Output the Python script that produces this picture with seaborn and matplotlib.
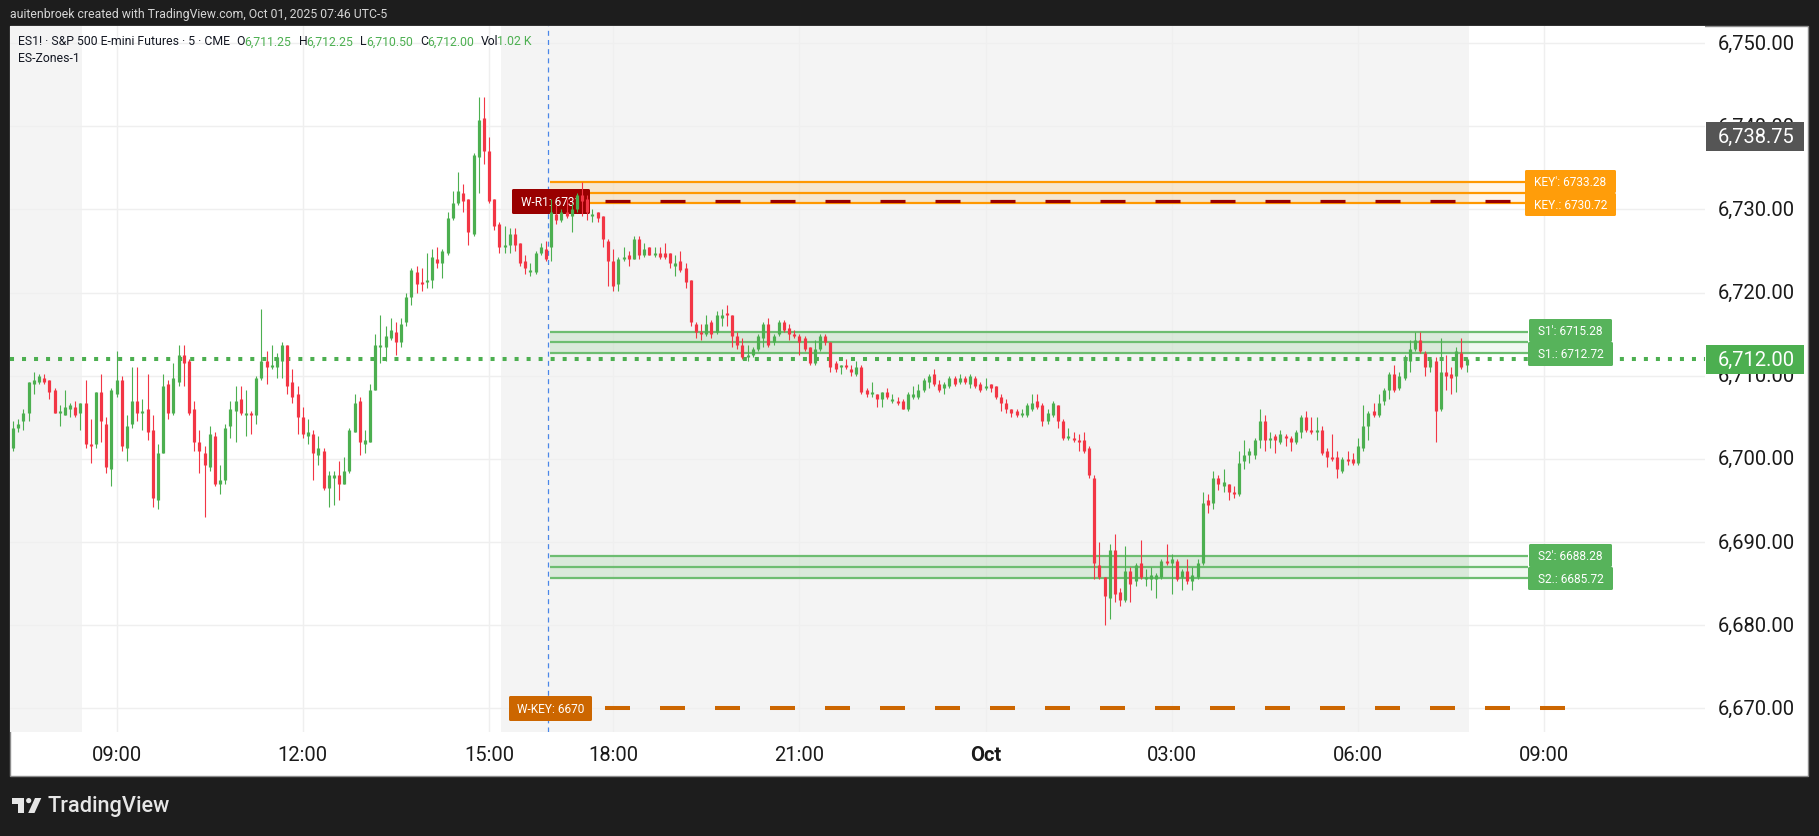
#!/usr/bin/env python3
"""ES1! 5 minute candles with the ES-Zones-1 levels, TradingView style."""

import numpy as np
import pandas as pd
import matplotlib
matplotlib.use("Agg")
import matplotlib.pyplot as plt
from matplotlib.patches import FancyBboxPatch, Polygon, Rectangle, Circle
from matplotlib.transforms import Affine2D
import seaborn as sns

# bar number 0 is the 09:00 candle of Sep 30, session break 16:00-17:00 is skipped
first_bar = -20

opens = [
    6701.25, 6703.75, 6704.5, 6705.5, 6709, 6709.25, 6709.75, 6709.5, 6708.25, 6705.5,
    6705.25, 6706, 6706.25, 6705.5, 6706.75, 6701.75, 6701.75, 6708, 6704.25, 6698.75,
    6707.75, 6709.5, 6701.25, 6704.25, 6707, 6705.5, 6706, 6703.5, 6695, 6700.75,
    6709, 6705.5, 6709.25, 6712.5, 6711.75, 6706, 6702, 6700.75, 6699, 6702.75,
    6697, 6697.5, 6704, 6705.75, 6707.25, 6705.25, 6705.5, 6705.25, 6709.75, 6711.75,
    6711, 6711, 6711.75, 6713.75, 6709.25, 6707.75, 6705, 6702.75, 6703, 6700.5,
    6701, 6696.5, 6697.75, 6698, 6697, 6698.5, 6703.25, 6707, 6701.75, 6702,
    6708.25, 6713.5, 6713.5, 6714.5, 6715.25, 6714, 6716.5, 6719.5, 6722.5, 6721.25,
    6721.25, 6721.5, 6724, 6723.5, 6724.75, 6729, 6730.75, 6732, 6731.25, 6727,
    6736.25, 6741, 6737, 6731.25, 6728.25, 6725.5, 6725.75, 6727, 6726, 6723.75,
    6722.5, 6722.5, 6724.75, 6725.25, 6725.5, 6729.5, 6728.75, 6729.75, 6729.25, 6730,
    6731.75, 6731.25, 6729.25, 6729.75, 6729.25, 6726.25, 6723.75, 6721, 6724, 6724.5,
    6724, 6726.5, 6724.5, 6725.5, 6724.5, 6724.75, 6724.75, 6724.75, 6723.25, 6723.75,
    6723, 6721.5, 6716.25, 6715.25, 6715, 6716.5, 6715.25, 6717, 6717.5, 6717.25,
    6714.75, 6713.75, 6712.25, 6712.5, 6713.25, 6714.5, 6716.25, 6714, 6715, 6716.5,
    6715.75, 6715, 6714.75, 6714.5, 6713.5, 6711.5, 6713.25, 6714.75, 6714, 6711.5,
    6711, 6711.25, 6710.75, 6710.25, 6711, 6708.25, 6707.75, 6707.75, 6707.25, 6708,
    6707, 6707, 6707, 6706, 6707.5, 6707.5, 6708.25, 6709.25, 6710.25, 6709,
    6708.5, 6708.75, 6709.75, 6709.25, 6709.75, 6709, 6709.75, 6709, 6708.5, 6709,
    6708.75, 6707.5, 6706.75, 6706, 6705.75, 6705.25, 6705.25, 6706, 6707, 6706.5,
    6704.5, 6705.25, 6706.5, 6704.5, 6702.5, 6702.5, 6702.25, 6702.25, 6701.25, 6697.75,
    6687.25, 6685.75, 6683.25, 6689, 6684, 6683, 6686.5, 6685.25, 6687.5, 6685.5,
    6685.5, 6685.5, 6685.75, 6687.75, 6687.5, 6687.75, 6685.75, 6686.5, 6685.25, 6685.75,
    6687.5, 6695, 6694.75, 6697.75, 6696.75, 6697, 6696, 6695.75, 6699.75, 6700.5,
    6700.5, 6702.25, 6704.5, 6702.25, 6702.75, 6702, 6702.75, 6702.5, 6702, 6703.25,
    6705, 6703.5, 6703.25, 6703.5, 6701, 6700.25, 6700.25, 6698.5, 6700, 6700,
    6699.5, 6701.25, 6704, 6705.75, 6705.25, 6707, 6708.25, 6710.25, 6708.5, 6709.75,
    6711.75, 6713.25, 6714.25, 6712.75, 6711, 6711.75, 6706, 6710.5, 6710.25, 6710,
    6712.75, 6711.25,
]
highs = [
    6704.5, 6704.75, 6706, 6709.25, 6710.5, 6710.25, 6710.25, 6709.5, 6708.5, 6706.5,
    6708.25, 6706.75, 6707, 6706.75, 6709.5, 6704.75, 6708, 6710.25, 6705, 6708.5,
    6713, 6710, 6705.25, 6711, 6711, 6707.25, 6710.25, 6705.25, 6701.75, 6710.25,
    6709.5, 6711.5, 6713.75, 6713.75, 6712, 6707, 6703.5, 6701.5, 6704, 6703.25,
    6699.25, 6704.25, 6707, 6708.75, 6708.75, 6708.25, 6705.75, 6710, 6718, 6713,
    6713.75, 6712.75, 6714, 6713.75, 6710.75, 6708.75, 6706.25, 6704.75, 6703.5, 6702.75,
    6701.25, 6698.5, 6698.5, 6699.75, 6700.25, 6703.75, 6707.75, 6707.5, 6703.5, 6709,
    6715, 6717.25, 6716, 6717, 6716.5, 6717, 6720, 6723, 6723.25, 6723,
    6724.75, 6725.25, 6725.5, 6725.25, 6729.75, 6732.25, 6734.5, 6733, 6731.25, 6736.75,
    6743.5, 6743.5, 6738.75, 6731.25, 6728.5, 6728, 6727.75, 6727.75, 6726, 6724.5,
    6723.5, 6725, 6726, 6726.25, 6731.25, 6730.5, 6730, 6731.25, 6730.75, 6732,
    6733.25, 6731.75, 6730, 6729.75, 6729.25, 6726.5, 6725.25, 6724.25, 6725.5, 6725,
    6726.75, 6726.75, 6726, 6725.5, 6725.5, 6725.5, 6726, 6724.75, 6724.5, 6725,
    6723.5, 6721.5, 6716.5, 6716.25, 6717.25, 6716.75, 6717.75, 6718, 6718.5, 6717.25,
    6715.25, 6714.5, 6713.75, 6713.5, 6715, 6716.5, 6717, 6715, 6716.75, 6716.75,
    6716.25, 6715.5, 6715, 6714.75, 6713.5, 6714.25, 6715, 6715, 6714, 6711.75,
    6711.25, 6712, 6711.25, 6711.75, 6711.25, 6708.5, 6709.25, 6707.75, 6708, 6708.5,
    6707.75, 6707.5, 6707.25, 6708, 6708.75, 6709, 6709.75, 6710.25, 6710.75, 6709.5,
    6709.25, 6710, 6710, 6710.25, 6710, 6710.25, 6710, 6709.25, 6709.75, 6709,
    6708.75, 6707.75, 6707.25, 6706, 6706, 6706, 6706.75, 6707.75, 6707.75, 6706.75,
    6706, 6707, 6706.5, 6704.75, 6703.75, 6703.25, 6703, 6703.25, 6701.5, 6698,
    6690, 6685.75, 6689.75, 6691, 6684.5, 6689.5, 6687, 6687.5, 6690.25, 6686.75,
    6687, 6686.25, 6688, 6689.75, 6688.5, 6688, 6686.75, 6688, 6687, 6688,
    6696, 6695.75, 6698.5, 6698, 6698.75, 6697, 6696.75, 6701, 6702.25, 6701.25,
    6702.5, 6706, 6705.25, 6703.25, 6703, 6703.5, 6703, 6702.75, 6703.5, 6705.25,
    6705.75, 6705, 6705, 6704, 6701.25, 6703, 6701, 6700.25, 6701, 6700.75,
    6702.5, 6706.5, 6705.75, 6706.75, 6707.75, 6708.5, 6710.5, 6711.25, 6710.5, 6712.5,
    6714.25, 6715.25, 6715.25, 6713, 6712.25, 6712.25, 6714.5, 6712.5, 6711, 6713.5,
    6714.5, 6712.25,
]
lows = [
    6701, 6703.25, 6703.5, 6704.5, 6707.75, 6709, 6709, 6707.25, 6705.5, 6704,
    6705.25, 6705, 6705, 6703.5, 6701.25, 6699.5, 6701.25, 6702, 6698.25, 6696.75,
    6707.5, 6701, 6699.75, 6703.75, 6704.5, 6703.5, 6702.25, 6694.25, 6694, 6700.75,
    6704.75, 6705.25, 6708.75, 6708.75, 6705.25, 6701, 6698.25, 6693, 6698.5, 6696.75,
    6695.75, 6697, 6702.5, 6702, 6705.25, 6702.75, 6703, 6704.25, 6709.5, 6709,
    6710.75, 6709.75, 6709.75, 6707.75, 6706.75, 6703, 6702.5, 6701.75, 6697.5, 6699.25,
    6696.25, 6694.25, 6694.5, 6695, 6697, 6698.25, 6703.25, 6700.5, 6700.75, 6702,
    6708.25, 6711.5, 6711.75, 6714.25, 6712.5, 6713.5, 6716, 6718.5, 6720, 6720.25,
    6720.5, 6720.5, 6723, 6721.75, 6724.5, 6728.75, 6730.5, 6729.75, 6725.75, 6726.75,
    6732, 6735.5, 6730.75, 6727.5, 6724.75, 6724.75, 6724.75, 6725, 6723.25, 6722.25,
    6722, 6722.25, 6724.5, 6723.75, 6723.75, 6728.25, 6728.5, 6729, 6727.25, 6729.75,
    6729.25, 6728.75, 6728.5, 6728.5, 6725.5, 6720.75, 6720.25, 6720.25, 6723.75, 6723.25,
    6724, 6724, 6724.25, 6724.5, 6724.25, 6724, 6724, 6723, 6722, 6722.5,
    6720.5, 6716, 6714.5, 6714.25, 6714.75, 6714.5, 6715, 6716, 6716, 6713.5,
    6713.25, 6712, 6711.75, 6712.25, 6713, 6713.5, 6713.5, 6713.75, 6714.75, 6715.25,
    6714.25, 6714.5, 6712.5, 6713, 6711.25, 6711.25, 6713, 6713.75, 6710.5, 6710.5,
    6710.25, 6710.75, 6710, 6710, 6707.75, 6707.5, 6707.5, 6706.25, 6706.25, 6707.25,
    6706.75, 6706.5, 6706, 6705.75, 6707.25, 6707.25, 6708, 6708.5, 6708.75, 6708,
    6707.75, 6708.5, 6708.75, 6709, 6709, 6708.5, 6708.5, 6708, 6708.25, 6708,
    6707.25, 6705.75, 6705.5, 6705, 6705, 6705, 6705, 6705.75, 6706, 6704,
    6704.25, 6705, 6703.75, 6702.25, 6702.25, 6702, 6701, 6700.75, 6697.75, 6685.5,
    6685.5, 6680, 6680.75, 6682.75, 6682.25, 6682.75, 6682.75, 6684.75, 6685.5, 6684.75,
    6684.25, 6683.25, 6685.5, 6687.25, 6683.75, 6685.25, 6684.25, 6685, 6684.25, 6685.5,
    6687.25, 6693.5, 6694, 6696.25, 6696, 6695, 6695.25, 6695.5, 6698.75, 6699.5,
    6700, 6701.25, 6701, 6701.25, 6700.75, 6701.75, 6701.5, 6701, 6701.75, 6702.5,
    6703.25, 6703, 6702.25, 6700.5, 6699, 6699.75, 6697.75, 6698.25, 6699.25, 6699.25,
    6699.25, 6701, 6702.25, 6705, 6705, 6706.5, 6707.25, 6708, 6708.25, 6709.5,
    6710.5, 6713, 6712.75, 6710, 6710.5, 6702, 6705.75, 6708.25, 6707.75, 6708,
    6710.75, 6710.5,
]
closes = [
    6703.75, 6704.25, 6705.5, 6709.25, 6709.5, 6710, 6709.25, 6708, 6705.5, 6705.75,
    6706.25, 6706.5, 6705.25, 6706.75, 6701.75, 6701.5, 6708, 6704.5, 6699, 6708.25,
    6709.5, 6701.5, 6704, 6707, 6705.5, 6705.75, 6703.25, 6695.25, 6700.75, 6708.75,
    6705.5, 6709.75, 6712.5, 6711.5, 6705.5, 6702, 6701, 6699.25, 6703, 6697,
    6697.5, 6703.75, 6706, 6707, 6705.5, 6705.5, 6705.25, 6709.75, 6711.75, 6711,
    6711.25, 6712.25, 6713.75, 6708.75, 6707.5, 6705, 6703, 6703.25, 6700.75, 6701.25,
    6696.5, 6698, 6698, 6697, 6698.5, 6703.5, 6706.75, 6702, 6702.25, 6708.25,
    6713.75, 6713.75, 6714.75, 6715.5, 6714, 6716.25, 6719.5, 6722.75, 6721, 6721,
    6721.5, 6724.25, 6723.5, 6725, 6729, 6730.75, 6732.25, 6731, 6727.25, 6736.5,
    6740.75, 6737, 6731, 6728, 6725.5, 6725.75, 6727, 6725.75, 6723.5, 6723,
    6722.75, 6724.75, 6725.5, 6724, 6729.75, 6728.75, 6729.75, 6729.25, 6730, 6731.75,
    6731, 6729.75, 6729.5, 6729, 6726.5, 6723.75, 6720.75, 6724, 6724.25, 6724,
    6726.5, 6724.5, 6725.25, 6724.5, 6724.75, 6724.25, 6724.25, 6723.5, 6723.5, 6722.75,
    6721.25, 6716.5, 6715.25, 6715, 6716.25, 6715, 6717.25, 6717.25, 6717.25, 6714.75,
    6713.75, 6712.25, 6712.5, 6713.25, 6714.75, 6716.25, 6713.75, 6714.75, 6716.5, 6715.5,
    6715, 6714.75, 6714, 6713.25, 6711.5, 6713.25, 6714.75, 6714, 6711, 6710.75,
    6711.25, 6711, 6710.5, 6711, 6708, 6707.75, 6708, 6707.25, 6708, 6707.5,
    6707.25, 6706.75, 6706, 6707.75, 6707.75, 6708.25, 6709.5, 6710, 6709, 6708.25,
    6709, 6709.75, 6709, 6709.75, 6709.25, 6710, 6708.75, 6708.25, 6708.75, 6708.5,
    6707.5, 6706.75, 6706, 6705.5, 6705.25, 6705.5, 6706.5, 6706.75, 6706.25, 6704.5,
    6705.5, 6706.75, 6704.5, 6702.5, 6702.75, 6702.25, 6702, 6701, 6698, 6687.5,
    6685.75, 6683.5, 6689, 6683.75, 6683, 6686.5, 6685, 6687.25, 6685.75, 6685.75,
    6686, 6686, 6687.75, 6687.5, 6688, 6685.5, 6686.5, 6685.25, 6686, 6687.5,
    6694.75, 6694.5, 6697.75, 6697, 6697.25, 6696, 6695.75, 6699.5, 6700.5, 6701,
    6702.25, 6704.5, 6702.25, 6702.5, 6702.25, 6703, 6702.5, 6702, 6703.25, 6705,
    6703.5, 6703.25, 6703.5, 6700.75, 6700.25, 6700, 6698.75, 6700, 6699.75, 6699.5,
    6701.5, 6704, 6705.5, 6705.25, 6706.75, 6708.25, 6710.25, 6708.25, 6710, 6712.25,
    6713.25, 6714.25, 6713, 6711, 6712, 6705.75, 6710.5, 6710, 6709.75, 6713,
    6711, 6712,
]

# time axis and price axis
time_ticks = [0, 36, 72, 96, 132, 168, 204, 240, 276]
time_labels = ["09:00", "12:00", "15:00", "18:00", "21:00", "Oct", "03:00", "06:00", "09:00"]
price_ticks = [6670, 6680, 6690, 6700, 6710, 6720, 6730, 6740, 6750]

# ES-Zones-1 levels
zone_tops = [6733.28, 6715.28, 6688.28]
zone_bottoms = [6730.72, 6712.72, 6685.72]
zone_colors = ["#ff9800", "#4caf50", "#4caf50"]
weekly_levels = [6731, 6670]
weekly_colors = ["#990000", "#cc6600"]
last_price = 6712.0
high_price = 6738.75

GREEN = "#4caf50"
RED = "#f23645"
W, H = 1819, 837
PLOT_L, PLOT_R, PLOT_T, PLOT_B = 10, 1705, 27, 733
BAR_PX = 5.1725
BAR0_PX = 116.6


def bar_at(px):
    return (px - BAR0_PX) / BAR_PX


def long_table(top, bottom):
    bars = np.arange(first_bar, first_bar + len(opens))
    up = np.array(closes) >= np.array(opens)
    side = np.where(up, "up", "down")
    return pd.concat([
        pd.DataFrame({"bar": bars, "price": top, "side": side}),
        pd.DataFrame({"bar": bars, "price": bottom, "side": side}),
    ])


sns.set_theme(style="white", rc={"lines.scale_dashes": False, "axes.linewidth": 0})
plt.rcParams["font.family"] = ["Roboto", "DejaVu Sans"]

fig = plt.figure(figsize=(W / 100, H / 100), dpi=100, facecolor="#1d1d1d")
ax = fig.add_axes([PLOT_L / W, (H - PLOT_B) / H, (PLOT_R - PLOT_L) / W, (PLOT_B - PLOT_T) / H],
                  facecolor="white", zorder=2)

# pixel coordinates with the origin on top, for the labels and the frame
px = Affine2D().scale(1, -1).translate(0, H)

# white chart frame behind the axes
fig.add_artist(Rectangle((9.5, 27), 1798.5, 749.5, transform=px, facecolor="white",
                         edgecolor="#8c8c8c", linewidth=1, zorder=0))

# session shading
ax.axvspan(bar_at(PLOT_L), bar_at(82), color="#f4f4f4", lw=0, zorder=0)
ax.axvspan(bar_at(501), bar_at(1469), color="#f4f4f4", lw=0, zorder=0)

# zones
zone_start = bar_at(550)
zone_mid = bar_at(1469)
zone_end = bar_at(1528)
for top, bottom, col in zip(zone_tops, zone_bottoms, zone_colors):
    line_col = col if col != GREEN else "#6dbd71"
    ax.fill_between([zone_start, zone_mid], bottom, top, color=col, alpha=0.15, lw=0, zorder=2)
    ax.fill_between([zone_mid, zone_end], bottom, top, color=col, alpha=0.08, lw=0, zorder=2)
    for level in (top, (top + bottom) / 2, bottom):
        ax.hlines(level, zone_start, zone_end, color=line_col, lw=1.6, zorder=2.2)

# session start marker, weekly levels and last price line
ax.axvline(bar_at(548.4), color="#4a86e8", lw=0.9, ls=(0, (3.6, 3)), zorder=2.5)
for level, col, width in zip(weekly_levels, weekly_colors, (2.3, 2.9)):
    ax.hlines(level, zone_start, bar_at(1565), color=col, lw=width,
              linestyles=[(0, (18, 21.6))], zorder=3)
ax.axhline(last_price, color=GREEN, lw=2.9, ls=(0, (2.9, 5.75)), zorder=3)


def label_box(x0, x1, y0, y1, col, text, size=8.6, zorder=4):
    ax.add_patch(FancyBboxPatch((x0 + 1, y0 + 1), x1 - x0 - 2, y1 - y0 - 2, transform=px,
                                boxstyle="round,pad=1,rounding_size=1.5", facecolor=col,
                                edgecolor="none", clip_on=False, zorder=zorder))
    ax.text((x0 + x1) / 2, (y0 + y1) / 2, text, transform=px, color="white", fontsize=size,
            ha="center", va="center", zorder=zorder + 0.1, clip_on=False)


label_box(512, 590, 190, 215, "#990000", "W-R1: 6731")
label_box(509, 592, 697, 722, "#cc6600", "W-KEY: 6670")
label_box(1525, 1616, 171, 194, "#ff9d0a", "KEY': 6733.28")
label_box(1525, 1616, 194, 217, "#ff9d0a", "KEY.: 6730.72")
label_box(1529, 1612, 320, 343, "#57b35b", "S1': 6715.28")
label_box(1528, 1613, 343, 367, "#57b35b", "S1.: 6712.72")
label_box(1529, 1612, 545, 568, "#57b35b", "S2': 6688.28")
label_box(1528, 1613, 568, 591, "#57b35b", "S2.: 6685.72")

# candles, one line per bar for the wick and one for the body
palette = {"up": GREEN, "down": RED}
sns.lineplot(data=long_table(highs, lows), x="bar", y="price", hue="side", units="bar",
             estimator=None, palette=palette, legend=False, linewidth=0.8, ax=ax,
             solid_capstyle="butt", zorder=6)
sns.lineplot(data=long_table(opens, closes), x="bar", y="price", hue="side", units="bar",
             estimator=None, palette=palette, legend=False, linewidth=2.3, ax=ax,
             solid_capstyle="butt", zorder=6)

ax.set_xlim(bar_at(PLOT_L), bar_at(PLOT_R))
ax.set_ylim(6740 - (PLOT_B - 127.3) / 8.314, 6740 + (127.3 - PLOT_T) / 8.314)
ax.set_xlabel("")
ax.set_ylabel("")

ax.set_xticks(time_ticks)
ax.set_xticklabels(time_labels)
ax.set_yticks(price_ticks)
ax.set_yticklabels([f"{p:,.2f}" for p in price_ticks], va="center")
ax.yaxis.tick_right()
ax.tick_params(axis="both", length=0, labelsize=14.5, labelcolor="#1a1a1a")
ax.tick_params(axis="y", pad=9.4)
ax.tick_params(axis="x", pad=9.5)
ax.get_xticklabels()[5].set_fontweight("bold")
ax.set_axisbelow(True)
ax.grid(True, color="#efefef", lw=1)

# price boxes on the axis
for y0, y1, col, value in [(123, 152, "#555555", high_price), (346, 375, GREEN, last_price)]:
    ax.add_patch(Rectangle((1706, y0), 98, y1 - y0, transform=px, facecolor=col, edgecolor="none",
                           clip_on=False, zorder=7))
    ax.text(1718, (y0 + y1) / 2, f"{value:,.2f}", transform=px, color="white", fontsize=14.5,
            ha="left", va="center", zorder=8, clip_on=False)

# header and legend
fig.text(10, 15, "auitenbroek created with TradingView.com, Oct 01, 2025 07:46 UTC-5",
         transform=px, color="#d6d6d6", fontsize=8.8, va="center")
INK = "#131722"
for x, text, col in [(18, "ES1! · S&P 500 E-mini Futures · 5 · CME", INK),
                     (236.5, "O", INK), (244, "6,711.25", GREEN),
                     (298.5, "H", INK), (306, "6,712.25", GREEN),
                     (360, "L", INK), (366, "6,710.50", GREEN),
                     (420, "C", INK), (427, "6,712.00", GREEN),
                     (481, "Vol", INK), (497, "1.02 K", GREEN)]:
    ax.text(x, 42, text, transform=px, color=col, fontsize=8.8, va="center", zorder=9)
ax.text(18, 59, "ES-Zones-1", transform=px, color=INK, fontsize=8.8, va="center", zorder=9)

# TradingView logo
LOGO = "#e6e6e6"
fig.add_artist(Polygon([(11.5, 799), (24, 799), (24, 814), (18, 814), (18, 804.5), (11.5, 804.5)],
                       closed=True, transform=px, facecolor=LOGO, edgecolor="none"))
fig.add_artist(Circle((28.7, 801.6), 2.6, transform=px, facecolor=LOGO, edgecolor="none"))
fig.add_artist(Polygon([(35, 799), (41.3, 799), (34.5, 814), (28.2, 814)],
                       closed=True, transform=px, facecolor=LOGO, edgecolor="none"))
fig.text(48, 807, "TradingView", transform=px, color=LOGO, fontsize=15.7, fontweight="medium",
         va="center")

fig.savefig("out.png", dpi=100, facecolor=fig.get_facecolor())
